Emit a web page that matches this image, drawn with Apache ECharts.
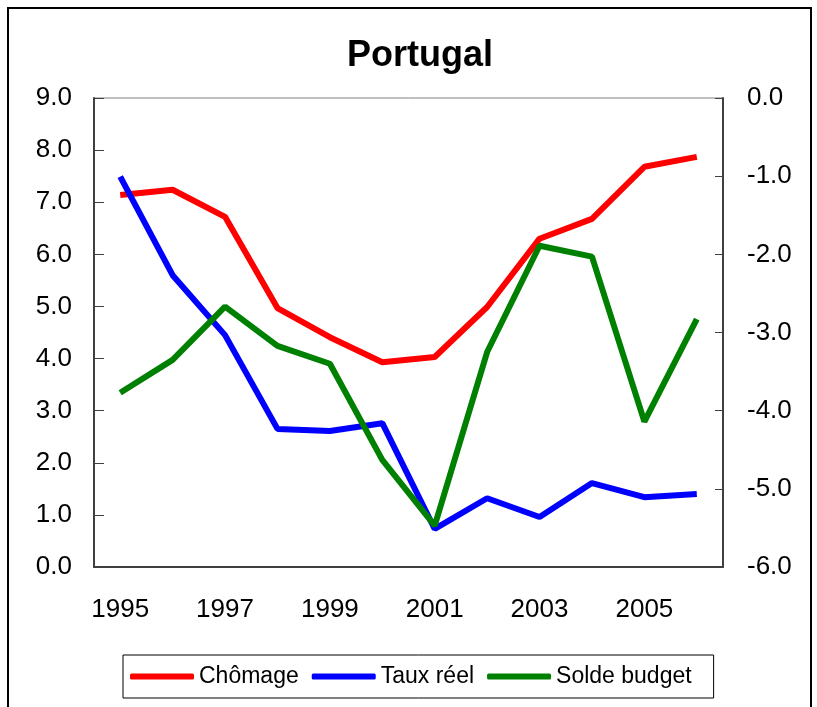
<!DOCTYPE html>
<html lang="fr">
<head>
    <meta charset="UTF-8">
    <script src="https://cdn.jsdelivr.net/npm/echarts@6/dist/echarts.min.js"></script>
    <title>Portugal</title>
    <style>
        html, body { margin: 0; padding: 0; background: #fff; }
    </style>
</head>
<body>
<div id="main" style="width: 817px;height: 707px;"></div>
<script>
    // années (axe des catégories)
    var years = ['1995', '1996', '1997', '1998', '1999', '2000', '2001', '2002', '2003', '2004', '2005', '2006'];
    // axe gauche
    var chomage = [7.14, 7.24, 6.72, 4.97, 4.41, 3.93, 4.03, 4.99, 6.30, 6.68, 7.68, 7.87];
    var tauxReel = [7.49, 5.60, 4.45, 2.65, 2.61, 2.76, 0.73, 1.32, 0.96, 1.61, 1.34, 1.40];
    // axe droit
    var soldeBudget = [-3.77, -3.35, -2.67, -3.17, -3.40, -4.63, -5.47, -3.25, -1.89, -2.03, -4.14, -2.83];

    var font = 'Liberation Sans, Arial, sans-serif';

    var myChart = echarts.init(document.getElementById('main'));
    var option = {
        animation: false,
        title: {
            text: 'Portugal',
            left: 347,
            top: 38,
            padding: 0,
            textStyle: {
                color: '#000',
                fontSize: 36,
                fontWeight: 'bold',
                fontFamily: font
            }
        },
        // cadre extérieur
        graphic: [{
            type: 'rect',
            shape: {x: 8, y: 8, width: 803, height: 730},
            style: {fill: null, stroke: '#000', lineWidth: 2},
            silent: true
        }],
        legend: {
            left: 123,
            top: 655,
            width: 620,
            padding: [10, 22, 10, 7],
            borderColor: '#000',
            borderWidth: 1,
            icon: 'roundRect',
            itemWidth: 64,
            itemHeight: 6,
            itemGap: 13,
            textStyle: {
                color: '#000',
                fontSize: 23,
                fontFamily: font
            },
            data: ['Chômage', 'Taux réel', 'Solde budget']
        },
        grid: {
            left: 94,
            right: 94,
            top: 98,
            bottom: 140,
            show: true,
            borderColor: '#808080',
            borderWidth: 1,
            containLabel: false
        },
        xAxis: {
            type: 'category',
            data: years,
            boundaryGap: true,
            axisLine: {lineStyle: {color: '#404040', width: 2}},
            axisTick: {show: false},
            axisLabel: {
                interval: 1,
                margin: 30,
                color: '#000',
                fontSize: 26,
                fontFamily: font
            }
        },
        yAxis: [{
            type: 'value',
            min: 0,
            max: 9,
            interval: 1,
            position: 'left',
            splitLine: {show: false},
            axisLine: {show: true, lineStyle: {color: '#404040', width: 2}},
            axisTick: {show: true, inside: true, length: 10, lineStyle: {color: '#404040'}},
            axisLabel: {
                margin: 22,
                color: '#000',
                fontSize: 26,
                fontFamily: font,
                formatter: function (v) { return v.toFixed(1); }
            }
        }, {
            type: 'value',
            min: -6,
            max: 0,
            interval: 1,
            position: 'right',
            splitLine: {show: false},
            axisLine: {show: true, lineStyle: {color: '#404040', width: 2}},
            axisTick: {show: true, inside: true, length: 8, lineStyle: {color: '#404040'}},
            axisLabel: {
                margin: 24,
                color: '#000',
                fontSize: 26,
                fontFamily: font,
                formatter: function (v) { return v.toFixed(1); }
            }
        }],
        series: [{
            name: 'Chômage',
            type: 'line',
            yAxisIndex: 0,
            data: chomage,
            showSymbol: false,
            symbol: 'none',
            color: '#ff0000',
            lineStyle: {color: '#ff0000', width: 6}
        }, {
            name: 'Taux réel',
            type: 'line',
            yAxisIndex: 0,
            data: tauxReel,
            showSymbol: false,
            symbol: 'none',
            color: '#0000ff',
            lineStyle: {color: '#0000ff', width: 6}
        }, {
            name: 'Solde budget',
            type: 'line',
            yAxisIndex: 1,
            data: soldeBudget,
            showSymbol: false,
            symbol: 'none',
            color: '#008000',
            lineStyle: {color: '#008000', width: 6}
        }]
    };
    myChart.setOption(option);
</script>
</body>
</html>
